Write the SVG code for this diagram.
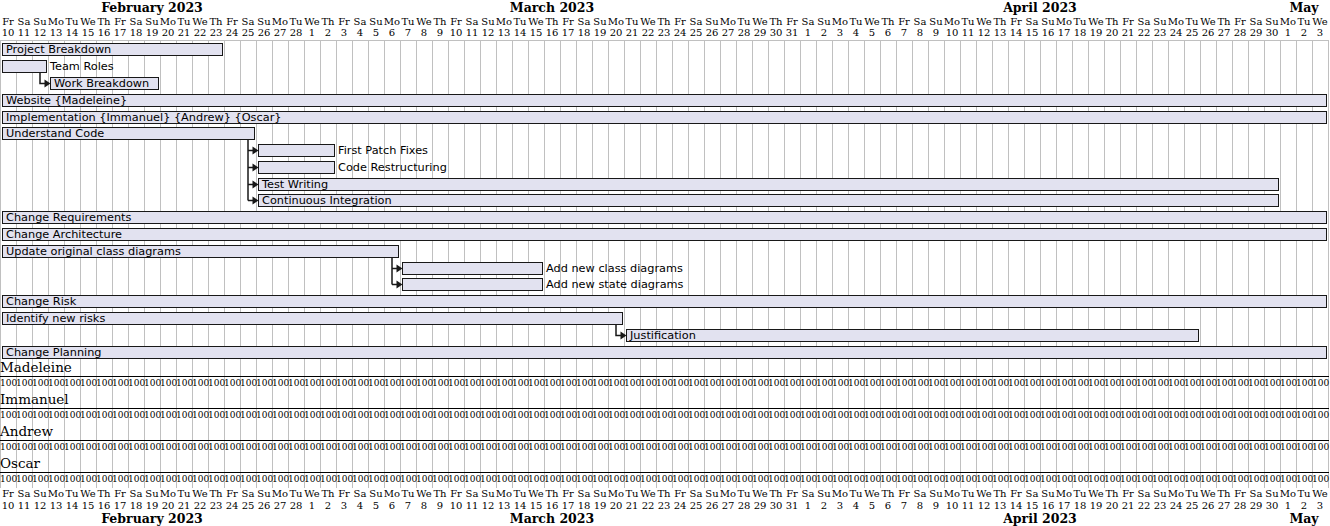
<svg xmlns="http://www.w3.org/2000/svg" xmlns:xlink="http://www.w3.org/1999/xlink" width="1330" height="526" viewBox="0 0 1330 526">
<style>
.month{font-family:"DejaVu Serif",serif;font-weight:bold;font-size:12.5px;fill:#000;text-anchor:middle}
.day{font-family:"DejaVu Serif",serif;font-size:10px;fill:#000;text-anchor:middle}
.res{font-family:"DejaVu Serif",serif;font-size:13.5px;fill:#000}
.load{font-family:"DejaVu Serif",serif;font-size:9px;fill:#000}
.bar{fill:#E2E2F0;stroke:#181818;stroke-width:1}
.lbl{font-family:"DejaVu Sans",sans-serif;font-size:11.3px;fill:#000}
.conn{fill:none;stroke:#181818;stroke-width:1.5}
.head{fill:#181818;stroke:none}
.rline{stroke:#000;stroke-width:1}
</style>
<defs>
<pattern id="grid" x="0" y="0" width="16" height="10" patternUnits="userSpaceOnUse"><rect x="0" y="0" width="1" height="10" fill="#C0C0C0"/></pattern>
<g id="dnames"><text class="day" y="0"><tspan x="8">Fr</tspan><tspan x="24">Sa</tspan><tspan x="40">Su</tspan><tspan x="56">Mo</tspan><tspan x="72">Tu</tspan><tspan x="88">We</tspan><tspan x="104">Th</tspan><tspan x="120">Fr</tspan><tspan x="136">Sa</tspan><tspan x="152">Su</tspan><tspan x="168">Mo</tspan><tspan x="184">Tu</tspan><tspan x="200">We</tspan><tspan x="216">Th</tspan><tspan x="232">Fr</tspan><tspan x="248">Sa</tspan><tspan x="264">Su</tspan><tspan x="280">Mo</tspan><tspan x="296">Tu</tspan><tspan x="312">We</tspan><tspan x="328">Th</tspan><tspan x="344">Fr</tspan><tspan x="360">Sa</tspan><tspan x="376">Su</tspan><tspan x="392">Mo</tspan><tspan x="408">Tu</tspan><tspan x="424">We</tspan><tspan x="440">Th</tspan><tspan x="456">Fr</tspan><tspan x="472">Sa</tspan><tspan x="488">Su</tspan><tspan x="504">Mo</tspan><tspan x="520">Tu</tspan><tspan x="536">We</tspan><tspan x="552">Th</tspan><tspan x="568">Fr</tspan><tspan x="584">Sa</tspan><tspan x="600">Su</tspan><tspan x="616">Mo</tspan><tspan x="632">Tu</tspan><tspan x="648">We</tspan><tspan x="664">Th</tspan><tspan x="680">Fr</tspan><tspan x="696">Sa</tspan><tspan x="712">Su</tspan><tspan x="728">Mo</tspan><tspan x="744">Tu</tspan><tspan x="760">We</tspan><tspan x="776">Th</tspan><tspan x="792">Fr</tspan><tspan x="808">Sa</tspan><tspan x="824">Su</tspan><tspan x="840">Mo</tspan><tspan x="856">Tu</tspan><tspan x="872">We</tspan><tspan x="888">Th</tspan><tspan x="904">Fr</tspan><tspan x="920">Sa</tspan><tspan x="936">Su</tspan><tspan x="952">Mo</tspan><tspan x="968">Tu</tspan><tspan x="984">We</tspan><tspan x="1000">Th</tspan><tspan x="1016">Fr</tspan><tspan x="1032">Sa</tspan><tspan x="1048">Su</tspan><tspan x="1064">Mo</tspan><tspan x="1080">Tu</tspan><tspan x="1096">We</tspan><tspan x="1112">Th</tspan><tspan x="1128">Fr</tspan><tspan x="1144">Sa</tspan><tspan x="1160">Su</tspan><tspan x="1176">Mo</tspan><tspan x="1192">Tu</tspan><tspan x="1208">We</tspan><tspan x="1224">Th</tspan><tspan x="1240">Fr</tspan><tspan x="1256">Sa</tspan><tspan x="1272">Su</tspan><tspan x="1288">Mo</tspan><tspan x="1304">Tu</tspan><tspan x="1320">We</tspan></text></g>
<g id="dnums"><text class="day" y="0"><tspan x="8">10</tspan><tspan x="24">11</tspan><tspan x="40">12</tspan><tspan x="56">13</tspan><tspan x="72">14</tspan><tspan x="88">15</tspan><tspan x="104">16</tspan><tspan x="120">17</tspan><tspan x="136">18</tspan><tspan x="152">19</tspan><tspan x="168">20</tspan><tspan x="184">21</tspan><tspan x="200">22</tspan><tspan x="216">23</tspan><tspan x="232">24</tspan><tspan x="248">25</tspan><tspan x="264">26</tspan><tspan x="280">27</tspan><tspan x="296">28</tspan><tspan x="312">1</tspan><tspan x="328">2</tspan><tspan x="344">3</tspan><tspan x="360">4</tspan><tspan x="376">5</tspan><tspan x="392">6</tspan><tspan x="408">7</tspan><tspan x="424">8</tspan><tspan x="440">9</tspan><tspan x="456">10</tspan><tspan x="472">11</tspan><tspan x="488">12</tspan><tspan x="504">13</tspan><tspan x="520">14</tspan><tspan x="536">15</tspan><tspan x="552">16</tspan><tspan x="568">17</tspan><tspan x="584">18</tspan><tspan x="600">19</tspan><tspan x="616">20</tspan><tspan x="632">21</tspan><tspan x="648">22</tspan><tspan x="664">23</tspan><tspan x="680">24</tspan><tspan x="696">25</tspan><tspan x="712">26</tspan><tspan x="728">27</tspan><tspan x="744">28</tspan><tspan x="760">29</tspan><tspan x="776">30</tspan><tspan x="792">31</tspan><tspan x="808">1</tspan><tspan x="824">2</tspan><tspan x="840">3</tspan><tspan x="856">4</tspan><tspan x="872">5</tspan><tspan x="888">6</tspan><tspan x="904">7</tspan><tspan x="920">8</tspan><tspan x="936">9</tspan><tspan x="952">10</tspan><tspan x="968">11</tspan><tspan x="984">12</tspan><tspan x="1000">13</tspan><tspan x="1016">14</tspan><tspan x="1032">15</tspan><tspan x="1048">16</tspan><tspan x="1064">17</tspan><tspan x="1080">18</tspan><tspan x="1096">19</tspan><tspan x="1112">20</tspan><tspan x="1128">21</tspan><tspan x="1144">22</tspan><tspan x="1160">23</tspan><tspan x="1176">24</tspan><tspan x="1192">25</tspan><tspan x="1208">26</tspan><tspan x="1224">27</tspan><tspan x="1240">28</tspan><tspan x="1256">29</tspan><tspan x="1272">30</tspan><tspan x="1288">1</tspan><tspan x="1304">2</tspan><tspan x="1320">3</tspan></text></g>
<g id="months"><text class="month" y="0"><tspan x="152">February 2023</tspan><tspan x="552">March 2023</tspan><tspan x="1040">April 2023</tspan><tspan x="1304">May</tspan></text></g>
<g id="loadrow"><text class="load" y="0"><tspan x="0">100</tspan><tspan x="16">100</tspan><tspan x="32">100</tspan><tspan x="48">100</tspan><tspan x="64">100</tspan><tspan x="80">100</tspan><tspan x="96">100</tspan><tspan x="112">100</tspan><tspan x="128">100</tspan><tspan x="144">100</tspan><tspan x="160">100</tspan><tspan x="176">100</tspan><tspan x="192">100</tspan><tspan x="208">100</tspan><tspan x="224">100</tspan><tspan x="240">100</tspan><tspan x="256">100</tspan><tspan x="272">100</tspan><tspan x="288">100</tspan><tspan x="304">100</tspan><tspan x="320">100</tspan><tspan x="336">100</tspan><tspan x="352">100</tspan><tspan x="368">100</tspan><tspan x="384">100</tspan><tspan x="400">100</tspan><tspan x="416">100</tspan><tspan x="432">100</tspan><tspan x="448">100</tspan><tspan x="464">100</tspan><tspan x="480">100</tspan><tspan x="496">100</tspan><tspan x="512">100</tspan><tspan x="528">100</tspan><tspan x="544">100</tspan><tspan x="560">100</tspan><tspan x="576">100</tspan><tspan x="592">100</tspan><tspan x="608">100</tspan><tspan x="624">100</tspan><tspan x="640">100</tspan><tspan x="656">100</tspan><tspan x="672">100</tspan><tspan x="688">100</tspan><tspan x="704">100</tspan><tspan x="720">100</tspan><tspan x="736">100</tspan><tspan x="752">100</tspan><tspan x="768">100</tspan><tspan x="784">100</tspan><tspan x="800">100</tspan><tspan x="816">100</tspan><tspan x="832">100</tspan><tspan x="848">100</tspan><tspan x="864">100</tspan><tspan x="880">100</tspan><tspan x="896">100</tspan><tspan x="912">100</tspan><tspan x="928">100</tspan><tspan x="944">100</tspan><tspan x="960">100</tspan><tspan x="976">100</tspan><tspan x="992">100</tspan><tspan x="1008">100</tspan><tspan x="1024">100</tspan><tspan x="1040">100</tspan><tspan x="1056">100</tspan><tspan x="1072">100</tspan><tspan x="1088">100</tspan><tspan x="1104">100</tspan><tspan x="1120">100</tspan><tspan x="1136">100</tspan><tspan x="1152">100</tspan><tspan x="1168">100</tspan><tspan x="1184">100</tspan><tspan x="1200">100</tspan><tspan x="1216">100</tspan><tspan x="1232">100</tspan><tspan x="1248">100</tspan><tspan x="1264">100</tspan><tspan x="1280">100</tspan><tspan x="1296">100</tspan><tspan x="1312">100</tspan></text></g>
</defs>
<rect x="0" y="0" width="1330" height="526" fill="#FFFFFF"/>
<g id="timeline">
<rect x="0" y="40" width="1329" height="448" fill="url(#grid)"/>
<rect x="0" y="40" width="1329" height="1" fill="#C0C0C0"/>
<use xlink:href="#months" href="#months" y="11.5"/>
<use xlink:href="#dnames" href="#dnames" y="25"/>
<use xlink:href="#dnums" href="#dnums" y="36"/>
<use xlink:href="#dnames" href="#dnames" y="497"/>
<use xlink:href="#dnums" href="#dnums" y="509"/>
<use xlink:href="#months" href="#months" y="523"/>
</g>
<g id="task-project-breakdown"><rect class="bar" x="2.5" y="43.5" width="220" height="12"/><text class="lbl" x="6" y="53">Project Breakdown</text></g>
<g id="task-team-roles"><rect class="bar" x="2.5" y="60.5" width="44" height="12"/><text class="lbl" x="50" y="70">Team Roles</text></g>
<g id="task-work-breakdown"><rect class="bar" x="50.5" y="77.5" width="108" height="12"/><text class="lbl" x="54" y="87">Work Breakdown</text></g>
<g id="task-website"><rect class="bar" x="2.5" y="94.5" width="1324" height="12"/><text class="lbl" x="6" y="104">Website {Madeleine}</text></g>
<g id="task-implementation"><rect class="bar" x="2.5" y="111.5" width="1324" height="12"/><text class="lbl" x="6" y="121">Implementation {Immanuel} {Andrew} {Oscar}</text></g>
<g id="task-understand-code"><rect class="bar" x="2.5" y="127.5" width="252" height="12"/><text class="lbl" x="6" y="137">Understand Code</text></g>
<g id="task-first-patch-fixes"><rect class="bar" x="258.5" y="144.5" width="76" height="12"/><text class="lbl" x="338" y="154">First Patch Fixes</text></g>
<g id="task-code-restructuring"><rect class="bar" x="258.5" y="161.5" width="76" height="12"/><text class="lbl" x="338" y="171">Code Restructuring</text></g>
<g id="task-test-writing"><rect class="bar" x="258.5" y="178.5" width="1020" height="12"/><text class="lbl" x="262" y="188">Test Writing</text></g>
<g id="task-continuous-integration"><rect class="bar" x="258.5" y="194.5" width="1020" height="12"/><text class="lbl" x="262" y="204">Continuous Integration</text></g>
<g id="task-change-requirements"><rect class="bar" x="2.5" y="211.5" width="1324" height="12"/><text class="lbl" x="6" y="221">Change Requirements</text></g>
<g id="task-change-architecture"><rect class="bar" x="2.5" y="228.5" width="1324" height="12"/><text class="lbl" x="6" y="238">Change Architecture</text></g>
<g id="task-update-class-diagrams"><rect class="bar" x="2.5" y="245.5" width="396" height="12"/><text class="lbl" x="6" y="255">Update original class diagrams</text></g>
<g id="task-add-class-diagrams"><rect class="bar" x="402.5" y="262.5" width="140" height="12"/><text class="lbl" x="546" y="272">Add new class diagrams</text></g>
<g id="task-add-state-diagrams"><rect class="bar" x="402.5" y="278.5" width="140" height="12"/><text class="lbl" x="546" y="288">Add new state diagrams</text></g>
<g id="task-change-risk"><rect class="bar" x="2.5" y="295.5" width="1324" height="12"/><text class="lbl" x="6" y="305">Change Risk</text></g>
<g id="task-identify-risks"><rect class="bar" x="2.5" y="312.5" width="620" height="12"/><text class="lbl" x="6" y="322">Identify new risks</text></g>
<g id="task-justification"><rect class="bar" x="626.5" y="329.5" width="572" height="12"/><text class="lbl" x="630" y="339">Justification</text></g>
<g id="task-change-planning"><rect class="bar" x="2.5" y="346.5" width="1324" height="12"/><text class="lbl" x="6" y="356">Change Planning</text></g>
<g id="connectors">
<path class="conn" d="M40 73 V83.5 H45"/>
<polygon class="head" points="50.5,83.5 44.5,79.5 44.5,87.5"/>
<path class="conn" d="M248 140 V200.5 M248 150.5 H253 M248 167.5 H253 M248 184.5 H253 M248 200.5 H253"/>
<polygon class="head" points="258.5,150.5 252.5,146.5 252.5,154.5"/>
<polygon class="head" points="258.5,167.5 252.5,163.5 252.5,171.5"/>
<polygon class="head" points="258.5,184.5 252.5,180.5 252.5,188.5"/>
<polygon class="head" points="258.5,200.5 252.5,196.5 252.5,204.5"/>
<path class="conn" d="M392 258 V284.5 M392 268.5 H397 M392 284.5 H397"/>
<polygon class="head" points="402.5,268.5 396.5,264.5 396.5,272.5"/>
<polygon class="head" points="402.5,284.5 396.5,280.5 396.5,288.5"/>
<path class="conn" d="M616 325 V335.5 H621"/>
<polygon class="head" points="626.5,335.5 620.5,331.5 620.5,339.5"/>
</g>
<g id="resource-madeleine"><text class="res" x="0" y="372">Madeleine</text><line class="rline" x1="0" y1="376.5" x2="1329" y2="376.5"/><use xlink:href="#loadrow" href="#loadrow" y="386"/></g>
<g id="resource-immanuel"><text class="res" x="0" y="404">Immanuel</text><line class="rline" x1="0" y1="408.5" x2="1329" y2="408.5"/><use xlink:href="#loadrow" href="#loadrow" y="418"/></g>
<g id="resource-andrew"><text class="res" x="0" y="436">Andrew</text><line class="rline" x1="0" y1="440.5" x2="1329" y2="440.5"/><use xlink:href="#loadrow" href="#loadrow" y="450"/></g>
<g id="resource-oscar"><text class="res" x="0" y="468">Oscar</text><line class="rline" x1="0" y1="472.5" x2="1329" y2="472.5"/><use xlink:href="#loadrow" href="#loadrow" y="482"/></g>
</svg>
